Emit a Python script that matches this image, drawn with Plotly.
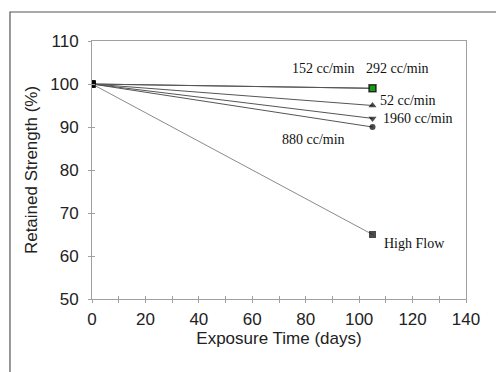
import plotly.graph_objects as go

# ---- data ----
days = [0, 105]
series_names = ["152 cc/min", "292 cc/min", "52 cc/min", "1960 cc/min", "880 cc/min", "High Flow"]
start_values = [100, 100, 100, 100, 100, 100]
end_values = [99, 99, 95, 92, 90, 65]
end_symbols = ["square", "square", "triangle-up", "triangle-down", "circle", "square"]
end_colors = ["black", "#00c000", "black", "black", "black", "black"]
line_colors = ["#555555", "#555555", "#555555", "#555555", "#555555", "#8a8a8a"]

x_ticks = [0, 20, 40, 60, 80, 100, 120, 140]
y_ticks = [50, 60, 70, 80, 90, 100, 110]

# label annotations (text, x, y, anchor)
labels = [
    ("152 cc/min", 86.5, 103.6, "center"),
    ("292 cc/min", 114.5, 103.6, "center"),
    ("52 cc/min", 107.0, 96.1, "left"),
    ("1960 cc/min", 108.2, 91.9, "left"),
    ("880 cc/min", 83.0, 87.2, "center"),
    ("High Flow", 108.5, 63.0, "left"),
]

fig = go.Figure()
for name, s, e, sym, col, lc in zip(series_names, start_values, end_values, end_symbols, end_colors, line_colors):
    fig.add_trace(go.Scatter(
        x=days, y=[s, e], mode="lines+markers", name=name,
        line=dict(color=lc, width=1),
        marker=dict(symbol=["square", sym], size=[7, 6 if sym == "circle" else 7],
                    color=["black", col],
                    line=dict(color="black", width=[0, 1.5 if col != "black" else 0])),
        showlegend=False,
    ))

# dummy trace to host the overlay (inside tick) axes
fig.add_trace(go.Scatter(x=[None], y=[None], xaxis="x2", yaxis="y2", showlegend=False))

for text, x, y, anc in labels:
    fig.add_annotation(x=x, y=y, text=text, showarrow=False, xanchor=anc, yanchor="middle",
                       font=dict(family="Liberation Serif", size=14, color="#111"))

axis_font = dict(family="Liberation Sans", size=17, color="#222")
fig.update_layout(
    width=496, height=372,
    margin=dict(l=92, r=30, t=41, b=73),
    paper_bgcolor="white", plot_bgcolor="white",
    font=axis_font,
    xaxis=dict(range=[0, 140], tickvals=x_ticks, showgrid=False, zeroline=False,
               showline=True, mirror=True, linecolor="#a0a0a0", linewidth=1,
               ticks="outside", ticklen=3, tickcolor="#a0a0a0", tickfont=axis_font,
               ticklabelstandoff=2,
               minor=dict(dtick=10, ticks="outside", ticklen=3, tickcolor="#a0a0a0"),
               title=dict(text="Exposure Time (days)", font=dict(family="Liberation Sans", size=17, color="#222"), standoff=2),
               automargin=False),
    yaxis=dict(range=[50, 110], tickvals=y_ticks, showgrid=False, zeroline=False,
               showline=True, mirror=True, linecolor="#a0a0a0", linewidth=1,
               ticks="outside", ticklen=3, tickcolor="#a0a0a0", tickfont=axis_font,
               ticklabelstandoff=6,
               title=dict(text="Retained Strength (%)", font=dict(family="Liberation Sans", size=17, color="#222"), standoff=8),
               automargin=False),
    xaxis2=dict(range=[0, 140], overlaying="x", dtick=10, tick0=0, ticks="inside", ticklen=3,
                tickcolor="#a0a0a0", showticklabels=False, showgrid=False, zeroline=False, showline=False),
    yaxis2=dict(range=[50, 110], overlaying="y", dtick=10, tick0=50, ticks="inside", ticklen=3,
                tickcolor="#a0a0a0", showticklabels=False, showgrid=False, zeroline=False, showline=False),
    shapes=[dict(type="rect", xref="paper", yref="paper", x0=-0.2193, x1=1.2, y0=-0.4, y1=1.1124,
                 line=dict(color="#555555", width=1.2), fillcolor="rgba(0,0,0,0)", layer="below")],
)

fig.write_html("out.html")
